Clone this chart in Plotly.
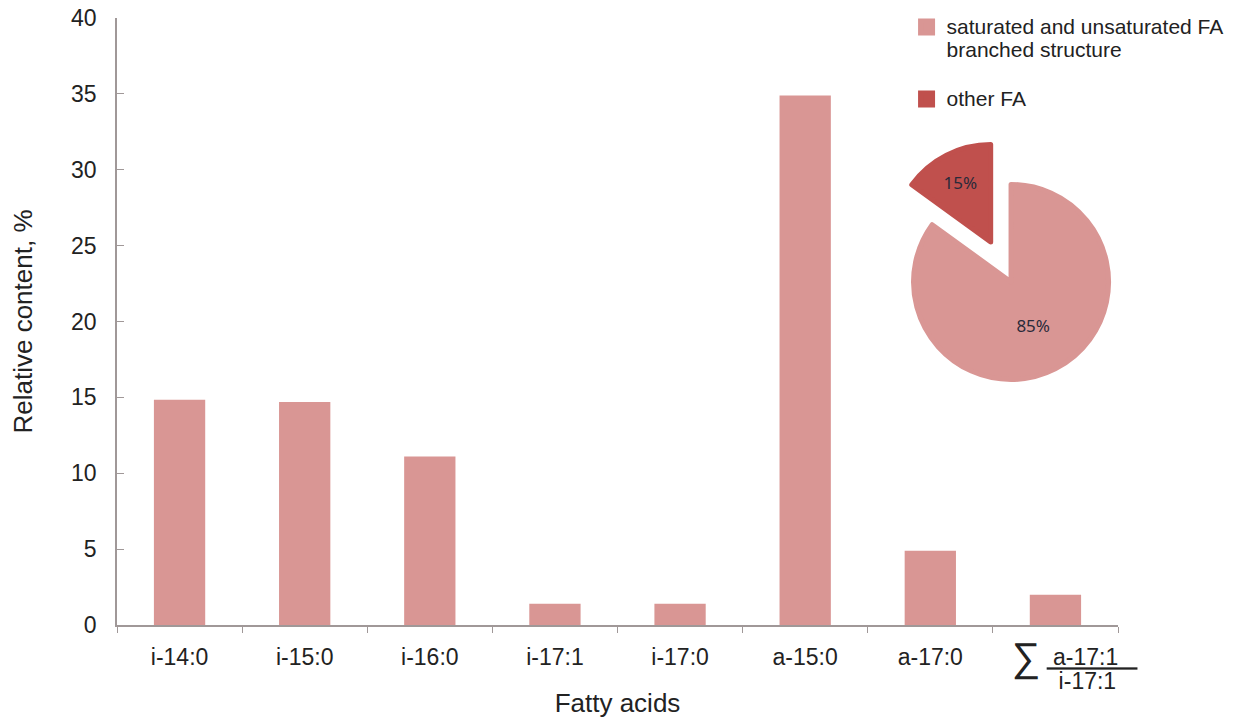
import plotly.graph_objects as go

# ---- data ----
categories = ["i-14:0", "i-15:0", "i-16:0", "i-17:1", "i-17:0", "a-15:0", "a-17:0", "sum a-17:1/i-17:1"]
values = [14.85, 14.7, 11.1, 1.4, 1.4, 34.9, 4.9, 2.0]
tick_names = ["i-14:0", "i-15:0", "i-16:0", "i-17:1", "i-17:0", "a-15:0", "a-17:0"]
ratio_num = "a-17:1"
ratio_den = "i-17:1"

pie_labels = ["saturated and unsaturated FA<br>branched structure", "other FA"]
pie_values = [85, 15]

# ---- styling helpers ----
NB = "\u00a0"
SP = "font-size:23px"
tick_labels = [f"<span style='{SP}'>{c}</span>" for c in tick_names] + [
    f"<span style='{SP}'>{NB*6}</span>"
    f"<span style='font-size:40px;baseline-shift:-6px'>∑</span>"
    f"<span style='{SP}'>{NB}<span style='text-decoration:underline'>{NB}{ratio_num}{NB*3}</span></span>"
    f"<br><span style='{SP}'>{NB*10}{ratio_den}</span>"
]
legend_labels = [
    f"<span style='font-size:21px'>{pie_labels[0]}</span><br>",
    f"<span style='font-size:21px'>{pie_labels[1]}</span>",
]

PALE = "#D99694"
DARK = "#C0504D"
AXIS = "#A09898"
FONT = "Liberation Sans"

ML, MR, MT, MB = 109, 20, 10, 105
PW = 1237 - ML - MR

fig = go.Figure()
fig.add_trace(go.Bar(
    x=categories, y=values, marker=dict(color=PALE, line=dict(width=0)),
    showlegend=False, xaxis="x", yaxis="y",
))
fig.add_trace(go.Pie(
    labels=legend_labels, values=pie_values, sort=False, direction="clockwise",
    pull=[0, 0.46], marker=dict(colors=[PALE, DARK], line=dict(width=5, color=[PALE, DARK])),
    textinfo="percent", textposition="inside", insidetextorientation="horizontal",
    textfont=dict(family="Noto Sans", size=17, color="#2a2a3a"),
    domain=dict(x=[0.6784, 0.9354], y=[0.3305, 0.7997]),
    showlegend=True, hoverinfo="label+percent",
))

fig.update_layout(
    width=1237, height=722,
    margin=dict(l=ML, r=MR, t=MT, b=MB, autoexpand=False),
    paper_bgcolor="white", plot_bgcolor="white",
    font=dict(family=FONT, color="#222222", size=18),
    bargap=0.59,
    xaxis=dict(
        domain=[0, 1001 / PW], automargin=False,
        tickmode="array", tickvals=categories, ticktext=tick_labels, tickangle=0,
        tickson="boundaries", ticks="outside", ticklen=6, tickcolor=AXIS,
        showline=True, linecolor=AXIS, linewidth=1.5, showgrid=False, zeroline=False,
        tickfont=dict(size=18, family=FONT, color="#222222"),
        ticklabelstandoff=17, ticklabeloverflow="allow",
        title=dict(text="Fatty acids", font=dict(size=26), standoff=1),
    ),
    yaxis=dict(
        range=[0, 40], dtick=5, ticks="inside", ticklen=7, tickcolor=AXIS, automargin=False,
        showline=True, linecolor=AXIS, linewidth=1.5, showgrid=False, zeroline=False,
        tickfont=dict(size=23), ticklabelstandoff=14, ticklabeloverflow="allow",
        title=dict(text="Relative content, %", font=dict(size=26), standoff=34),
    ),
    legend=dict(
        x=0.7126, y=1.0148, xanchor="left", yanchor="top", valign="top",
        font=dict(size=17.7, family=FONT, color="#222222"),
        bgcolor="rgba(0,0,0,0)",
    ),
)

fig.write_html("out.html")
